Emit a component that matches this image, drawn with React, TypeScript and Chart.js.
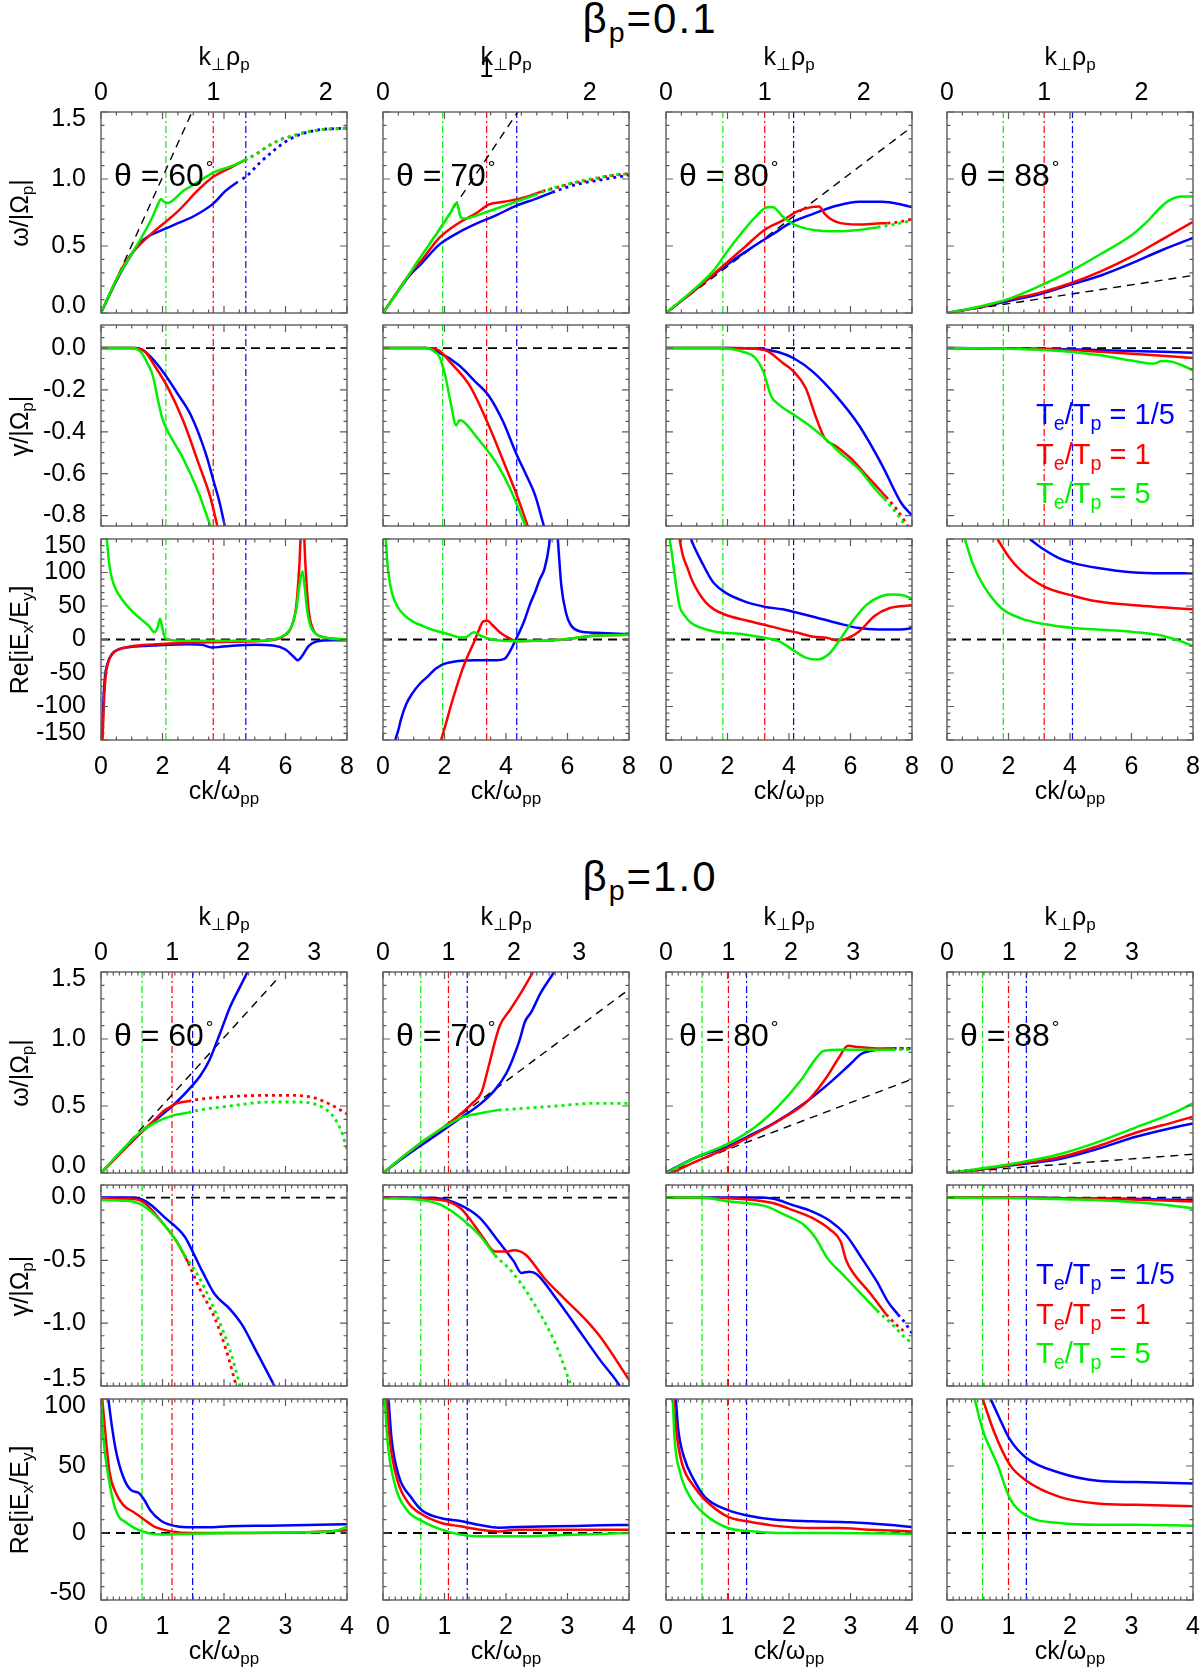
import { useEffect, useRef } from 'react';
import { Chart, registerables } from 'chart.js';

Chart.register(...registerables);

const FONT = '"Liberation Sans", Arial, Helvetica, sans-serif';
Chart.defaults.font.family = FONT;
Chart.defaults.color = '#000';

type Pt = [number, number];

const BLUE = '#0000ff';
const RED = '#ff0000';
const GREEN = '#00f000';

// panel layout (px)
const colLeft = [101, 383, 666, 947];
const rowTop = [[112, 325, 539], [972, 1185, 1399]];
const PW = 246;
const PH = 201;
const PAD_L = 100, PAD_T = 60, PAD_R = 20, PAD_B = 70;

const angles = [60, 70, 80, 88];
const betaText = ['0.1', '1.0'];
const titleY = [19, 877];

// axes
const xMax = [8, 4];
const xStep = [2, 1];
const xMinor = [4, 10];
const kMax01 = [2.19, 2.38, 2.49, 2.53];
const kMax10 = [3.46, 3.76, 3.94, 3.99];
const yRange01 = [[0, 1.5], [-0.85, 0.11], [-150, 150]];
const yRange10 = [[0, 1.5], [-1.5, 0.1], [-50, 100]];
const yStep01 = [0.5, 0.2, 50];
const yStep10 = [0.5, 0.5, 50];
const yMinor01 = [5, 4, 5];
const yMinor10 = [5, 5, 5];
const yDecimals = [1, 1, 0];

// vertical dash-dot markers (ck/ω_pp), Te/Tp = 5, 1, 1/5
const vl01G = [2.11, 1.94, 1.85, 1.83];
const vl01R = [3.65, 3.37, 3.21, 3.16];
const vl01B = [4.71, 4.35, 4.15, 4.08];
const vl10G = [0.667, 0.614, 0.586, 0.578];
const vl10R = [1.155, 1.064, 1.015, 1.0];
const vl10B = [1.49, 1.37, 1.31, 1.29];

// end points of the dashed line in the ω panels
const dash01: Pt[] = [[2.96, 1.5], [4.38, 1.5], [8, 1.39], [8, 0.28]];
const dash10: Pt[] = [[2.85, 1.44], [4, 1.37], [4, 0.7], [4, 0.14]];

// ---------- beta_p = 0.1 : omega ----------
const w01_60B: Pt[] = [[0, 0], [0.5, 0.24], [1.0, 0.44], [1.3, 0.53], [1.6, 0.58], [2.0, 0.62], [2.5, 0.67], [3.0, 0.72], [3.67, 0.82], [4.04, 0.91], [4.45, 0.98]];
const w01_60Bd: Pt[] = [[4.6, 1.0], [4.73, 1.02], [5.16, 1.12], [5.66, 1.22], [6.16, 1.3], [6.9, 1.36], [8, 1.38]];
const w01_60R: Pt[] = [[0, 0], [0.5, 0.25], [0.8, 0.38], [1.06, 0.46], [1.68, 0.6], [2.05, 0.67], [2.55, 0.77], [3.17, 0.92], [3.67, 1.02], [4.17, 1.08], [4.67, 1.14]];
const w01_60Rd: Pt[] = [[4.67, 1.14], [5.0, 1.18], [5.4, 1.24], [5.8, 1.29], [6.2, 1.32], [6.9, 1.36], [8, 1.38]];
const w01_60G: Pt[] = [[0, 0], [0.5, 0.25], [0.81, 0.37], [1.31, 0.56], [1.68, 0.72], [1.87, 0.82], [1.95, 0.85], [2.05, 0.83], [2.15, 0.82], [2.67, 0.91], [3.17, 0.98], [3.67, 1.05], [4.17, 1.09], [4.67, 1.14]];
const w01_60Gd: Pt[] = [[4.67, 1.14], [5.0, 1.18], [5.4, 1.24], [5.8, 1.29], [6.2, 1.32], [6.9, 1.36], [8, 1.38]];

const w01_70B: Pt[] = [[0, 0], [0.5, 0.165], [0.9, 0.29], [1.21, 0.36], [1.83, 0.51], [2.45, 0.6], [3.07, 0.67], [3.69, 0.73], [4.32, 0.8], [4.94, 0.85], [5.5, 0.9]];
const w01_70Bd: Pt[] = [[5.5, 0.9], [6.0, 0.94], [6.5, 0.97], [7.0, 0.99], [7.5, 1.01], [8, 1.03]];
const w01_70R: Pt[] = [[0, 0], [0.5, 0.17], [0.9, 0.3], [1.21, 0.38], [1.83, 0.56], [2.45, 0.67], [3.07, 0.75], [3.45, 0.81], [3.94, 0.83], [4.57, 0.86], [5.19, 0.91]];
const w01_70Rd: Pt[] = [[5.19, 0.91], [5.7, 0.94], [6.2, 0.97], [6.7, 0.99], [7.3, 1.02], [8, 1.04]];
const w01_70G: Pt[] = [[0, 0], [0.6, 0.2], [1.2, 0.41], [1.8, 0.61], [2.2, 0.75], [2.39, 0.82], [2.45, 0.79], [2.5, 0.73], [2.6, 0.705], [2.8, 0.71], [3.2, 0.74], [3.69, 0.78], [4.32, 0.83], [4.94, 0.88]];
const w01_70Gd: Pt[] = [[4.94, 0.88], [5.5, 0.93], [6, 0.96], [6.5, 0.99], [7, 1.01], [7.5, 1.03], [8, 1.04]];

const w01_80B: Pt[] = [[0, 0], [0.93, 0.17], [1.8, 0.33], [2.8, 0.49], [3.42, 0.58], [4.04, 0.67], [4.79, 0.74], [5.54, 0.8], [6.28, 0.83], [7.03, 0.83], [7.65, 0.81], [8, 0.79]];
const w01_80R: Pt[] = [[0, 0], [0.93, 0.17], [1.8, 0.34], [2.55, 0.49], [3.2, 0.62], [3.79, 0.69], [4.29, 0.76], [4.73, 0.79], [4.98, 0.795], [5.16, 0.74], [5.54, 0.68], [6.28, 0.66], [7.03, 0.67], [7.2, 0.67]];
const w01_80Rd: Pt[] = [[7.2, 0.67], [7.6, 0.68], [8, 0.7]];
const w01_80G: Pt[] = [[0, 0], [0.93, 0.18], [1.56, 0.32], [1.93, 0.44], [2.43, 0.59], [2.92, 0.72], [3.3, 0.79], [3.48, 0.79], [3.79, 0.72], [4.17, 0.66], [4.79, 0.62], [5.54, 0.61], [6.28, 0.62], [6.88, 0.64]];
const w01_80Gd: Pt[] = [[6.88, 0.64], [7.4, 0.66], [8, 0.69]];

const w01_88B: Pt[] = [[0, 0], [1, 0.04], [2, 0.09], [3, 0.14], [4, 0.21], [5, 0.28], [6, 0.37], [7, 0.47], [8, 0.56]];
const w01_88R: Pt[] = [[0, 0], [1, 0.04], [2, 0.1], [3, 0.15], [4, 0.22], [5, 0.31], [6, 0.42], [7, 0.55], [8, 0.68]];
const w01_88G: Pt[] = [[0, 0], [1, 0.045], [2, 0.105], [3, 0.2], [4, 0.31], [5, 0.44], [6, 0.58], [6.5, 0.68], [7, 0.8], [7.3, 0.85], [7.6, 0.87], [8, 0.87]];

// ---------- beta_p = 0.1 : gamma ----------
const g01_60B: Pt[] = [[0, 0], [1.0, 0], [1.3, -0.005], [1.6, -0.04], [2.05, -0.12], [2.5, -0.22], [2.92, -0.32], [3.42, -0.51], [3.67, -0.64], [3.86, -0.74], [4.04, -0.86]];
const g01_60R: Pt[] = [[0, 0], [1.1, 0], [1.45, -0.02], [1.68, -0.07], [2.18, -0.19], [2.68, -0.35], [3.17, -0.55], [3.55, -0.71], [3.8, -0.86]];
const g01_60G: Pt[] = [[0, 0], [1.0, 0], [1.3, -0.02], [1.5, -0.07], [1.68, -0.13], [1.87, -0.26], [2.0, -0.34], [2.18, -0.4], [2.68, -0.53], [3.17, -0.69], [3.58, -0.86]];

const g01_70B: Pt[] = [[0, 0], [1.4, 0], [1.8, -0.02], [2.45, -0.08], [3.0, -0.16], [3.45, -0.23], [3.9, -0.35], [4.32, -0.5], [4.7, -0.62], [4.94, -0.7], [5.25, -0.86]];
const g01_70R: Pt[] = [[0, 0], [1.4, 0], [1.8, -0.01], [2.2, -0.07], [2.82, -0.18], [3.38, -0.35], [3.94, -0.55], [4.32, -0.69], [4.73, -0.86]];
const g01_70G: Pt[] = [[0, 0], [1.4, 0], [1.7, -0.02], [1.83, -0.04], [2.02, -0.13], [2.2, -0.26], [2.38, -0.37], [2.48, -0.345], [2.6, -0.35], [3.07, -0.43], [3.69, -0.55], [4.19, -0.69], [4.66, -0.86]];

const g01_80B: Pt[] = [[0, 0], [2, 0], [3, -0.003], [3.67, -0.02], [4.17, -0.05], [4.79, -0.115], [5.54, -0.23], [6.28, -0.37], [7.03, -0.56], [7.65, -0.74], [8, -0.8]];
const g01_80R: Pt[] = [[0, 0], [2, 0], [3, -0.005], [3.3, -0.015], [3.79, -0.07], [4.17, -0.115], [4.54, -0.19], [4.85, -0.32], [5.16, -0.43], [5.54, -0.47], [6.03, -0.53], [6.53, -0.61], [7.03, -0.69], [7.15, -0.71]];
const g01_80Rd: Pt[] = [[7.15, -0.71], [7.5, -0.77], [7.9, -0.86]];
const g01_80G: Pt[] = [[0, 0], [1.56, 0], [2.55, -0.02], [2.92, -0.05], [3.17, -0.115], [3.42, -0.23], [3.67, -0.27], [4.17, -0.32], [4.66, -0.37], [5.16, -0.43], [5.66, -0.5], [6.28, -0.58], [6.9, -0.69], [7.1, -0.72]];
const g01_80Gd: Pt[] = [[7.1, -0.72], [7.5, -0.79], [7.84, -0.86]];

const g01_88B: Pt[] = [[0, 0], [3, -0.003], [4, -0.006], [5, -0.01], [6, -0.014], [7, -0.018], [8, -0.022]];
const g01_88R: Pt[] = [[0, 0], [3, -0.005], [4, -0.01], [5, -0.018], [6, -0.027], [7, -0.037], [8, -0.048]];
const g01_88G: Pt[] = [[0, 0], [2, -0.003], [3, -0.008], [4, -0.018], [5, -0.035], [6, -0.06], [6.7, -0.075], [7.0, -0.062], [7.3, -0.065], [7.6, -0.08], [8, -0.107]];

// ---------- beta_p = 0.1 : Re[iEx/Ey] ----------
const r01_60B: Pt[] = [[0.03, -150], [0.08, -90], [0.13, -55], [0.22, -35], [0.35, -22], [0.6, -14], [1.0, -11], [1.7, -9], [2.9, -7], [3.3, -8], [3.6, -12], [3.9, -11], [4.4, -9], [5.0, -8], [5.6, -9], [6.0, -15], [6.25, -25], [6.4, -31], [6.55, -24], [6.75, -10], [7.0, -3], [7.5, -1], [8, -1]];
const r01_60R: Pt[] = [[0.05, -150], [0.1, -90], [0.15, -55], [0.25, -32], [0.4, -20], [0.7, -13], [1.0, -10], [1.7, -7.5], [2.9, -5], [4.2, -3.5], [5.4, -1.5], [5.9, 4], [6.2, 20], [6.35, 50], [6.45, 110], [6.55, 200], [6.65, 110], [6.75, 45], [6.9, 15], [7.2, 4], [7.6, 1], [8, 0]];
const r01_60G: Pt[] = [[0.19, 150], [0.25, 120], [0.32, 98], [0.44, 79], [0.68, 60], [1.06, 40], [1.31, 30], [1.56, 20], [1.74, 11], [1.84, 18], [1.92, 31], [1.98, 20], [2.08, 3], [2.3, -1], [3, -2], [4, -2], [5, -2], [5.6, 0], [6.0, 8], [6.2, 20], [6.35, 45], [6.45, 80], [6.55, 102], [6.62, 80], [6.7, 45], [6.8, 22], [7.0, 8], [7.4, 2], [8, 0]];

const r01_70B: Pt[] = [[0.4, -150], [0.5, -135], [0.58, -120], [0.75, -97], [0.96, -80], [1.2, -66], [1.46, -55], [1.7, -44], [1.95, -37], [2.45, -32], [3.0, -31], [3.69, -31], [3.95, -29], [4.1, -20], [4.32, 0], [4.57, 25], [4.8, 55], [4.94, 70], [5.1, 90], [5.25, 105], [5.4, 140], [5.5, 190], [5.62, 190], [5.7, 140], [5.8, 80], [5.95, 40], [6.1, 22], [6.43, 12], [6.93, 10], [8, 8]];
const r01_70R: Pt[] = [[1.89, -150], [2.05, -125], [2.2, -100], [2.4, -70], [2.58, -45], [2.75, -25], [2.95, -5], [3.1, 12], [3.26, 27], [3.4, 28], [3.55, 22], [3.82, 10], [4.19, 0], [4.32, -2.5], [5.0, -2], [5.56, -1], [6.2, 2], [6.93, 6], [8, 7]];
const r01_70G: Pt[] = [[0.09, 150], [0.15, 110], [0.21, 89], [0.3, 68], [0.46, 50], [0.7, 36], [0.96, 27], [1.3, 20], [1.58, 15], [2.2, 7], [2.5, 3], [2.7, 3.5], [2.95, 11], [3.2, 5], [3.57, 0], [4.32, -2.5], [5.0, -2], [5.56, -1], [6.2, 2], [6.93, 6], [8, 7]];

const r01_80B: Pt[] = [[0.81, 150], [0.95, 135], [1.18, 114], [1.4, 95], [1.56, 84], [1.93, 70], [2.55, 57], [3.2, 49], [3.79, 45], [4.17, 41], [4.79, 34], [5.54, 25], [6.28, 17], [6.9, 15], [7.65, 15], [8, 17]];
const r01_80R: Pt[] = [[0.44, 150], [0.55, 125], [0.68, 109], [0.85, 88], [1.06, 70], [1.3, 55], [1.56, 45], [1.93, 37], [2.55, 29], [3.2, 22], [3.79, 15], [4.29, 10], [4.79, 4], [5.22, 2.5], [5.54, -1], [5.78, 0], [6.28, 12], [6.78, 35], [7.28, 47], [8, 51]];
const r01_80G: Pt[] = [[0.12, 150], [0.2, 125], [0.3, 90], [0.44, 50], [0.6, 36], [0.81, 25], [1.1, 18], [1.56, 12], [2.55, 7.5], [3.2, 2.5], [3.67, -2.5], [4.17, -17], [4.54, -27], [4.91, -30], [5.29, -22], [5.66, 0], [6.03, 25], [6.53, 52], [7.03, 65], [7.4, 67], [7.7, 66], [8, 61]];

const r01_88B: Pt[] = [[2.69, 150], [3.13, 135], [3.62, 122], [4.12, 114], [4.86, 107], [6.1, 100], [7, 99], [8, 99]];
const r01_88R: Pt[] = [[1.64, 150], [2.0, 124], [2.38, 104], [3.16, 79], [4.12, 65], [4.86, 57], [6.1, 51], [7, 48], [8, 45]];
const r01_88G: Pt[] = [[0.58, 150], [0.83, 114], [1.14, 84], [1.76, 47], [2.38, 32], [3.16, 23], [4.12, 17], [4.86, 15], [6.1, 11], [6.97, 6], [7.59, -2.5], [8, -10]];

// ---------- beta_p = 1.0 : omega ----------
const w10_60B: Pt[] = [[0, 0], [0.36, 0.17], [0.67, 0.31], [0.98, 0.43], [1.23, 0.53], [1.48, 0.65], [1.62, 0.73], [1.76, 0.84], [1.95, 1.06], [2.1, 1.24], [2.25, 1.38], [2.38, 1.5], [2.45, 1.58]];
const w10_60R: Pt[] = [[0, 0], [0.3, 0.14], [0.6, 0.28], [0.86, 0.39], [1.04, 0.47], [1.15, 0.5], [1.23, 0.52], [1.42, 0.535]];
const w10_60Rd: Pt[] = [[1.42, 0.535], [1.6, 0.55], [2.1, 0.57], [2.72, 0.58], [3.1, 0.58], [3.47, 0.56], [3.78, 0.5], [4, 0.44]];
const w10_60G: Pt[] = [[0, 0], [0.3, 0.15], [0.6, 0.29], [0.86, 0.37], [1.17, 0.43], [1.42, 0.45]];
const w10_60Gd: Pt[] = [[1.42, 0.45], [1.6, 0.47], [2.1, 0.5], [2.72, 0.53], [3.22, 0.53], [3.6, 0.49], [3.78, 0.42], [3.9, 0.32], [4, 0.18]];

const w10_70B: Pt[] = [[0, 0], [0.32, 0.11], [0.63, 0.21], [0.95, 0.31], [1.26, 0.41], [1.57, 0.51], [1.82, 0.62], [2.0, 0.74], [2.1, 0.84], [2.22, 0.99], [2.31, 1.13], [2.41, 1.2], [2.56, 1.34], [2.78, 1.5], [2.85, 1.56]];
const w10_70R: Pt[] = [[0, 0], [0.32, 0.12], [0.63, 0.23], [0.95, 0.33], [1.26, 0.44], [1.45, 0.52], [1.6, 0.6], [1.72, 0.8], [1.82, 0.98], [1.9, 1.1], [2.07, 1.22], [2.25, 1.35], [2.44, 1.5], [2.5, 1.55]];
const w10_70G: Pt[] = [[0, 0], [0.32, 0.12], [0.63, 0.23], [0.95, 0.33], [1.26, 0.41], [1.63, 0.45], [1.88, 0.47]];
const w10_70Gd: Pt[] = [[1.88, 0.47], [2.19, 0.48], [2.81, 0.5], [3.43, 0.52], [4, 0.52]];

const w10_80B: Pt[] = [[0, 0.005], [0.51, 0.12], [1.01, 0.2], [1.32, 0.27], [1.75, 0.37], [2.25, 0.52], [2.68, 0.68], [2.99, 0.81], [3.18, 0.89], [3.43, 0.92], [3.7, 0.93]];
const w10_80Bd: Pt[] = [[3.7, 0.93], [4, 0.93]];
const w10_80R: Pt[] = [[0, -0.02], [0.51, 0.09], [1.01, 0.19], [1.44, 0.29], [1.94, 0.42], [2.31, 0.54], [2.62, 0.72], [2.81, 0.86], [2.96, 0.95], [3.12, 0.94], [3.43, 0.93], [3.68, 0.93]];
const w10_80Rd: Pt[] = [[3.68, 0.93], [4, 0.93]];
const w10_80G: Pt[] = [[0, 0], [0.51, 0.12], [1.01, 0.22], [1.44, 0.34], [1.81, 0.49], [2.19, 0.69], [2.43, 0.85], [2.56, 0.91], [2.81, 0.92], [3.3, 0.92], [3.68, 0.92]];
const w10_80Gd: Pt[] = [[3.68, 0.92], [4, 0.92]];

const w10_88B: Pt[] = [[0, 0], [0.5, 0.025], [1.02, 0.055], [1.83, 0.105], [2.45, 0.18], [3.07, 0.27], [3.69, 0.34], [4, 0.37]];
const w10_88R: Pt[] = [[0, 0], [0.5, 0.025], [1.02, 0.058], [1.83, 0.117], [2.45, 0.2], [3.07, 0.3], [3.69, 0.38], [4, 0.42]];
const w10_88G: Pt[] = [[0, 0], [0.5, 0.03], [1.02, 0.065], [1.83, 0.14], [2.45, 0.23], [3.07, 0.34], [3.69, 0.45], [4, 0.52]];

// ---------- beta_p = 1.0 : gamma ----------
const g10_60B: Pt[] = [[0, 0], [0.49, 0], [0.73, -0.03], [1.04, -0.16], [1.36, -0.31], [1.48, -0.42], [1.66, -0.6], [1.85, -0.77], [2.1, -0.89], [2.29, -1.01], [2.5, -1.2], [2.82, -1.5], [2.9, -1.58]];
const g10_60R: Pt[] = [[0, -0.01], [0.42, -0.01], [0.67, -0.03], [0.98, -0.19], [1.23, -0.35], [1.42, -0.52]];
const g10_60Rd: Pt[] = [[1.42, -0.52], [1.6, -0.72], [1.85, -0.96], [2.04, -1.22], [2.2, -1.5], [2.25, -1.58]];
const g10_60G: Pt[] = [[0, -0.02], [0.42, -0.026], [0.67, -0.06], [0.98, -0.19], [1.23, -0.35], [1.36, -0.46]];
const g10_60Gd: Pt[] = [[1.36, -0.46], [1.6, -0.64], [1.85, -0.9], [2.1, -1.22], [2.26, -1.5], [2.3, -1.58]];

const g10_70B: Pt[] = [[0, 0], [0.88, -0.005], [1.26, -0.06], [1.57, -0.16], [1.88, -0.35], [2.13, -0.51], [2.25, -0.6], [2.38, -0.59], [2.5, -0.61], [2.81, -0.8], [3.12, -1.01], [3.54, -1.3], [3.85, -1.5], [3.9, -1.55]];
const g10_70R: Pt[] = [[0, 0], [0.95, -0.02], [1.26, -0.085], [1.44, -0.19], [1.63, -0.32], [1.82, -0.43], [2.0, -0.43], [2.13, -0.42], [2.32, -0.455], [2.62, -0.64], [2.94, -0.8], [3.31, -0.98], [3.55, -1.12], [4, -1.45]];
const g10_70G: Pt[] = [[0, -0.005], [0.63, -0.02], [0.95, -0.06], [1.26, -0.16], [1.57, -0.3], [1.82, -0.46]];
const g10_70Gd: Pt[] = [[1.82, -0.46], [2.13, -0.61], [2.5, -0.88], [2.81, -1.17], [3.06, -1.5], [3.1, -1.55]];

const g10_80B: Pt[] = [[0, 0], [1.44, 0], [1.75, -0.01], [2.06, -0.06], [2.37, -0.11], [2.68, -0.19], [2.93, -0.3], [3.18, -0.48], [3.43, -0.67], [3.61, -0.83], [3.77, -0.93]];
const g10_80Bd: Pt[] = [[3.77, -0.93], [3.86, -0.98], [3.92, -1.02], [4, -1.08]];
const g10_80R: Pt[] = [[0, 0], [1.01, -0.005], [1.44, -0.02], [1.75, -0.045], [2.06, -0.1], [2.37, -0.16], [2.68, -0.26], [2.84, -0.35], [2.93, -0.5], [3.06, -0.61], [3.3, -0.75], [3.58, -0.93]];
const g10_80Rd: Pt[] = [[3.58, -0.93], [3.74, -1.01], [3.86, -1.06]];
const g10_80G: Pt[] = [[0, 0], [0.58, 0], [1.01, -0.03], [1.32, -0.045], [1.63, -0.07], [1.94, -0.14], [2.25, -0.22], [2.43, -0.32], [2.62, -0.48], [2.87, -0.61], [3.18, -0.77], [3.43, -0.9]];
const g10_80Gd: Pt[] = [[3.43, -0.9], [3.68, -1.01], [3.92, -1.13], [4, -1.15]];

const g10_88B: Pt[] = [[0, 0], [1, 0], [2, -0.005], [3, -0.01], [4, -0.02]];
const g10_88R: Pt[] = [[0, 0], [1, 0], [2, -0.006], [3, -0.015], [4, -0.032]];
const g10_88G: Pt[] = [[0, 0], [1, -0.004], [2, -0.015], [2.5, -0.022], [3, -0.035], [3.5, -0.055], [4, -0.085]];

// ---------- beta_p = 1.0 : Re[iEx/Ey] ----------
const r10_60B: Pt[] = [[0.12, 100], [0.17, 82], [0.24, 62], [0.36, 42], [0.49, 32], [0.61, 30], [0.7, 25], [0.8, 17], [0.98, 9], [1.23, 5], [1.48, 4.2], [1.73, 4.2], [2.1, 5], [2.72, 5.5], [3.35, 6], [4, 6.5]];
const r10_60R: Pt[] = [[0.02, 100], [0.08, 70], [0.14, 45], [0.24, 30], [0.36, 21], [0.55, 15], [0.67, 11], [0.86, 5], [1.15, 1.2], [1.48, 0], [2.1, 0], [3.35, 0.5], [4, 2]];
const r10_60G: Pt[] = [[0, 100], [0.04, 70], [0.11, 45], [0.24, 17], [0.42, 7.5], [0.67, 1.2], [0.98, -1.2], [1.48, -0.5], [2.1, 0], [3.35, 0.5], [3.8, 1.5], [4, 4.5]];

const r10_70B: Pt[] = [[0.09, 100], [0.14, 70], [0.26, 42], [0.45, 27], [0.63, 17], [0.95, 11], [1.26, 9], [1.57, 6], [1.88, 4], [2.19, 4.5], [2.81, 5], [3.54, 5.7], [4, 6]];
const r10_70R: Pt[] = [[0.06, 100], [0.11, 70], [0.23, 40], [0.42, 22], [0.63, 14], [0.95, 7.5], [1.26, 5], [1.57, 2.5], [1.88, 1.2], [2.19, 2.5], [2.81, 2.5], [3.54, 2.5], [4, 2.5]];
const r10_70G: Pt[] = [[0.03, 100], [0.07, 70], [0.2, 35], [0.39, 17], [0.63, 9], [0.95, 2.5], [1.26, -1.2], [1.57, -2.5], [2.19, -2.5], [2.81, -1.7], [3.54, -0.7], [4, 0]];

const r10_80B: Pt[] = [[0.16, 100], [0.2, 77], [0.29, 57], [0.45, 40], [0.63, 27], [1.01, 17], [1.32, 13], [1.75, 10], [2.37, 8.7], [2.99, 8], [3.61, 6.2], [4, 4.5]];
const r10_80R: Pt[] = [[0.12, 100], [0.17, 75], [0.26, 52], [0.45, 35], [0.63, 25], [1.01, 12], [1.32, 8.7], [1.75, 5.5], [2.37, 3.7], [2.81, 3.7], [3.3, 2.5], [4, 1.2]];
const r10_80G: Pt[] = [[0.11, 100], [0.14, 70], [0.23, 45], [0.39, 27], [0.63, 14], [1.01, 3.7], [1.44, 1.2], [1.94, 0], [2.68, 0], [4, -0.5]];

const r10_88B: Pt[] = [[0.71, 100], [0.89, 82], [1.02, 70], [1.29, 56], [1.83, 45], [2.45, 39], [3.07, 38], [4, 37]];
const r10_88R: Pt[] = [[0.58, 100], [0.77, 75], [1.02, 51], [1.29, 39], [1.83, 27], [2.45, 22], [3.07, 21], [4, 20]];
const r10_88G: Pt[] = [[0.45, 100], [0.58, 77], [0.83, 50], [1.02, 26], [1.29, 13], [1.83, 7.5], [2.45, 6.2], [3.07, 6.2], [4, 5.5]];

type Curves = { B: Pt[]; R: Pt[]; G: Pt[]; Bd?: Pt[]; Rd?: Pt[]; Gd?: Pt[] };
const cv = (B: Pt[], R: Pt[], G: Pt[], Bd?: Pt[], Rd?: Pt[], Gd?: Pt[]): Curves => ({ B, R, G, Bd, Rd, Gd });

const grid01: Curves[][] = [
  [cv(w01_60B, w01_60R, w01_60G, w01_60Bd, w01_60Rd, w01_60Gd), cv(w01_70B, w01_70R, w01_70G, w01_70Bd, w01_70Rd, w01_70Gd), cv(w01_80B, w01_80R, w01_80G, undefined, w01_80Rd, w01_80Gd), cv(w01_88B, w01_88R, w01_88G)],
  [cv(g01_60B, g01_60R, g01_60G), cv(g01_70B, g01_70R, g01_70G), cv(g01_80B, g01_80R, g01_80G, undefined, g01_80Rd, g01_80Gd), cv(g01_88B, g01_88R, g01_88G)],
  [cv(r01_60B, r01_60R, r01_60G), cv(r01_70B, r01_70R, r01_70G), cv(r01_80B, r01_80R, r01_80G), cv(r01_88B, r01_88R, r01_88G)],
];
const grid10: Curves[][] = [
  [cv(w10_60B, w10_60R, w10_60G, undefined, w10_60Rd, w10_60Gd), cv(w10_70B, w10_70R, w10_70G, undefined, undefined, w10_70Gd), cv(w10_80B, w10_80R, w10_80G, w10_80Bd, w10_80Rd, w10_80Gd), cv(w10_88B, w10_88R, w10_88G)],
  [cv(g10_60B, g10_60R, g10_60G, undefined, g10_60Rd, g10_60Gd), cv(g10_70B, g10_70R, g10_70G, undefined, undefined, g10_70Gd), cv(g10_80B, g10_80R, g10_80G, g10_80Bd, g10_80Rd, g10_80Gd), cv(g10_88B, g10_88R, g10_88G)],
  [cv(r10_60B, r10_60R, r10_60G), cv(r10_70B, r10_70R, r10_70G), cv(r10_80B, r10_80R, r10_80G), cv(r10_88B, r10_88R, r10_88G)],
];

// box with inward major/minor ticks on all four sides
const framePlugin = {
  id: 'frame',
  afterDatasetsDraw(chart: any, _args: any, o: any) {
    const { ctx, chartArea: a } = chart;
    const sx = chart.scales.x;
    const sy = chart.scales.y;
    ctx.save();
    ctx.strokeStyle = '#5c5c5c';
    ctx.lineWidth = 1.2;
    ctx.beginPath();
    const ticks = (scale: any, step: number, n: number, horiz: boolean) => {
      const m = step / n;
      const i0 = Math.ceil(scale.min / m - 1e-6);
      const i1 = Math.floor(scale.max / m + 1e-6);
      for (let i = i0; i <= i1; i++) {
        const len = i % n === 0 ? 7 : 3.5;
        const p = scale.getPixelForValue(i * m);
        if (horiz) {
          ctx.moveTo(p, a.bottom); ctx.lineTo(p, a.bottom - len);
          ctx.moveTo(p, a.top); ctx.lineTo(p, a.top + len);
        } else {
          ctx.moveTo(a.left, p); ctx.lineTo(a.left + len, p);
          ctx.moveTo(a.right, p); ctx.lineTo(a.right - len, p);
        }
      }
    };
    ticks(sx, o.xStep, o.xMinor, true);
    ticks(sy, o.yStep, o.yMinor, false);
    ctx.stroke();
    ctx.lineWidth = 1.4;
    ctx.strokeRect(a.left, a.top, a.right - a.left, a.bottom - a.top);
    ctx.restore();
  },
};

const toXY = (pts: Pt[]) => pts.map(([x, y]) => ({ x, y }));
const near = (a: number, b: number) => Math.abs(a - b) < 1e-6;

function buildConfig(g: number, row: number, col: number): any {
  const c = (g === 0 ? grid01 : grid10)[row][col];
  const [yMin, yMax] = (g === 0 ? yRange01 : yRange10)[row];
  const xm = xMax[g];
  const vls = g === 0 ? [vl01G[col], vl01R[col], vl01B[col]] : [vl10G[col], vl10R[col], vl10B[col]];
  const colors = [GREEN, RED, BLUE];
  const datasets: any[] = [];
  const base = { pointRadius: 0, pointHoverRadius: 0, fill: false };

  vls.forEach((v, i) => {
    datasets.push({ ...base, data: [{ x: v, y: yMin }, { x: v, y: yMax }], borderColor: colors[i], borderWidth: 1.2, borderDash: [7, 3, 2, 3], order: 9 });
  });
  if (row === 0) {
    const [ex, ey] = (g === 0 ? dash01 : dash10)[col];
    datasets.push({ ...base, data: [{ x: 0, y: 0 }, { x: ex, y: ey }], borderColor: '#000', borderWidth: 1.4, borderDash: [8, 6], order: 8 });
  } else {
    datasets.push({ ...base, data: [{ x: 0, y: 0 }, { x: xm, y: 0 }], borderColor: '#000', borderWidth: 1.8, borderDash: [9, 6], order: 8 });
  }
  const curve = (pts: Pt[] | undefined, color: string, order: number, dotted: boolean) => {
    if (!pts) return;
    datasets.push({
      ...base,
      data: toXY(pts),
      borderColor: color,
      borderWidth: dotted ? 2.8 : 2.5,
      borderDash: dotted ? [3, 4] : [],
      cubicInterpolationMode: 'monotone',
      order,
    });
  };
  curve(c.B, BLUE, 3, false);
  curve(c.R, RED, 2, false);
  curve(c.G, GREEN, 1, false);
  curve(c.Bd, BLUE, 3, true);
  curve(c.Rd, RED, 2, true);
  curve(c.Gd, GREEN, 1, true);

  const dec = yDecimals[row];
  const tickFont = { family: FONT, size: 25 };
  const kMax = (g === 0 ? kMax01 : kMax10)[col];
  // the "1" of the top axis in the 70° panel sits higher in the original
  const raisedK = g === 0 && col === 1 ? 1 : null;

  return {
    type: 'line',
    data: { datasets },
    plugins: [framePlugin],
    options: {
      animation: false,
      responsive: false,
      events: [],
      layout: { padding: { left: 0, top: 0, right: PAD_R, bottom: 0 } },
      plugins: {
        legend: { display: false },
        tooltip: { enabled: false },
        frame: {
          xStep: xStep[g],
          xMinor: xMinor[g],
          yStep: (g === 0 ? yStep01 : yStep10)[row],
          yMinor: (g === 0 ? yMinor01 : yMinor10)[row],
        },
      },
      scales: {
        x: {
          type: 'linear',
          position: 'bottom',
          min: 0,
          max: xm,
          grid: { display: false },
          border: { display: false },
          ticks: { display: row === 2, stepSize: xStep[g], font: tickFont, color: '#000', padding: 4, maxRotation: 0, autoSkip: false, includeBounds: false, callback: (v: number) => String(Math.round(v)) },
          afterFit: (s: any) => { s.height = PAD_B; },
        },
        x2: {
          type: 'linear',
          position: 'top',
          min: 0,
          max: kMax,
          grid: { display: false },
          border: { display: false },
          ticks: {
            display: row === 0,
            stepSize: 1,
            font: (ctx: any) => ({ family: FONT, size: 25, lineHeight: ctx.tick && ctx.tick.value === raisedK ? 1.0 : 1.2 }),
            color: '#000',
            padding: -4,
            maxRotation: 0,
            autoSkip: false,
            includeBounds: false,
            callback: (v: number) => (v === raisedK ? [String(v), ''] : String(Math.round(v))),
          },
          afterFit: (s: any) => { s.height = PAD_T; },
        },
        y: {
          type: 'linear',
          position: 'left',
          min: yMin,
          max: yMax,
          grid: { display: false },
          border: { display: false },
          ticks: {
            display: col === 0,
            stepSize: (g === 0 ? yStep01 : yStep10)[row],
            font: (ctx: any) => {
              const v = ctx.tick ? ctx.tick.value : NaN;
              const edge = near(v, yMin) || near(v, yMax);
              return { family: FONT, size: 25, lineHeight: edge ? 0.56 : 1.2 };
            },
            color: '#000',
            padding: 7,
            autoSkip: false,
            includeBounds: false,
            callback: (v: number) => {
              const s = (Math.abs(v) < 1e-9 ? 0 : v).toFixed(dec);
              if (near(v, yMax)) return ['', s];
              if (near(v, yMin)) return [s, ''];
              return s;
            },
          },
          afterFit: (s: any) => { s.width = PAD_L; },
        },
      },
    },
  };
}

function Panel({ g, row, col }: { g: number; row: number; col: number }) {
  const ref = useRef<HTMLCanvasElement | null>(null);
  useEffect(() => {
    if (!ref.current) return;
    const chart = new Chart(ref.current, buildConfig(g, row, col));
    return () => chart.destroy();
  }, [g, row, col]);
  const w = PAD_L + PW + PAD_R;
  const h = PAD_T + PH + PAD_B;
  return (
    <canvas
      ref={ref}
      width={w}
      height={h}
      style={{ position: 'absolute', left: colLeft[col] - PAD_L, top: rowTop[g][row] - PAD_T, width: w, height: h }}
    />
  );
}

const Sub = ({ children }: { children: any }) => (
  <span style={{ fontSize: '0.68em', position: 'relative', top: '0.32em' }}>{children}</span>
);

const yTitles = [
  <>ω/|Ω<Sub>p</Sub>|</>,
  <>γ/|Ω<Sub>p</Sub>|</>,
  <>Re[iE<Sub>x</Sub>/E<Sub>y</Sub>]</>,
];
const legendRows = [
  { color: BLUE, text: '1/5' },
  { color: RED, text: '1' },
  { color: GREEN, text: '5' },
];
const legendDy = [89, 129, 168];

const abs = (left: number, top: number, extra: any = {}) => ({
  position: 'absolute' as const,
  left,
  top,
  whiteSpace: 'nowrap' as const,
  lineHeight: 1,
  ...extra,
});

export default function App() {
  const groups = [0, 1];
  return (
    <div style={{ position: 'absolute', left: 0, top: 0, width: 1200, height: 1672, overflow: 'hidden', background: '#fff', fontFamily: FONT, color: '#000' }}>
      {groups.map((g) =>
        [0, 1, 2].map((row) => [0, 1, 2, 3].map((col) => <Panel key={`${g}-${row}-${col}`} g={g} row={row} col={col} />))
      )}
      {groups.map((g) => (
        <div key={`t${g}`}>
          <div style={abs(650, titleY[g], { fontSize: 42, letterSpacing: 2, transform: 'translate(-50%, -50%)' })}>
            β<Sub>p</Sub>={betaText[g]}
          </div>
          {colLeft.map((cl, col) => (
            <div key={`k${col}`}>
              <div style={abs(cl + PW / 2, rowTop[g][0] - 56, { fontSize: 25, transform: 'translate(-50%, -50%)' })}>
                k<Sub>⊥</Sub>ρ<Sub>p</Sub>
              </div>
              <div style={abs(cl + PW / 2, rowTop[g][2] + PH + 50, { fontSize: 25, transform: 'translate(-50%, -50%)' })}>
                ck/ω<Sub>pp</Sub>
              </div>
              <div style={abs(cl + 13, rowTop[g][0] + 63, { fontSize: 32, transform: 'translate(0, -50%)' })}>
                θ = {angles[col]}
                <span style={{ fontSize: '0.6em', position: 'relative', top: '-0.6em', marginLeft: 2 }}>°</span>
              </div>
            </div>
          ))}
          {yTitles.map((t, row) => (
            <div key={`y${row}`} style={abs(19, rowTop[g][row] + PH / 2, { fontSize: 25, transform: 'translate(-50%, -50%) rotate(-90deg)' })}>
              {t}
            </div>
          ))}
          {legendRows.map((l, i) => (
            <div key={`l${i}`} style={abs(1036, rowTop[g][1] + legendDy[i], { fontSize: 29, color: l.color, transform: 'translate(0, -50%)' })}>
              T<Sub>e</Sub>/T<Sub>p</Sub> = {l.text}
            </div>
          ))}
        </div>
      ))}
    </div>
  );
}
